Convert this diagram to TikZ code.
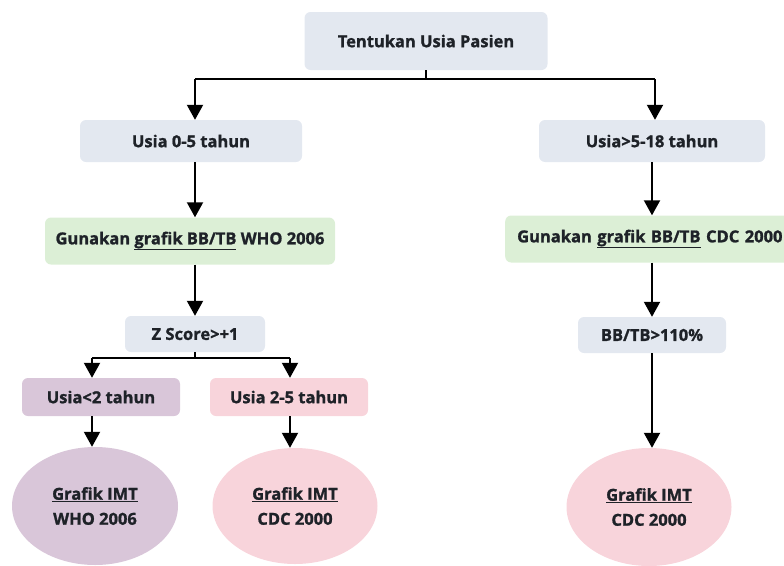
\documentclass[tikz,border=0pt]{standalone}
\usepackage{fontspec}
\setmainfont{Open Sans}[BoldFeatures={FakeBold=1.2}]
\usetikzlibrary{arrows.meta,shapes.geometric}
\definecolor{cblue}{HTML}{E3E8F0}
\definecolor{cgreen}{HTML}{DCEFD6}
\definecolor{cpurple}{HTML}{D9C6D9}
\definecolor{cpink}{HTML}{F8D4DB}
\definecolor{ctext}{HTML}{1E2228}
\tikzset{
  box/.style={rectangle, rounded corners=6pt, inner sep=0pt, font=\bfseries\fontsize{16.5}{19}\selectfont, text=ctext},
  oval/.style={ellipse, inner sep=0pt, font=\bfseries\fontsize{16.5}{25}\selectfont, text=ctext, align=center},
  arr/.style={line width=2pt, -{Triangle[width=16pt,length=15pt]}},
  ln/.style={line width=2pt}
}
\begin{document}
\begin{tikzpicture}[x=1pt,y=-1pt]
\useasboundingbox (0,0) rectangle (784,565);
\node[box, fill=cblue, minimum width=243pt, minimum height=58pt] (top) at (426,41) {Tentukan Usia Pasien};
\node[box, fill=cblue, minimum width=222pt, minimum height=42pt] (u05) at (191,141) {Usia 0-5 tahun};
\node[box, fill=cblue, minimum width=226pt, minimum height=42pt] (u518) at (652,141) {Usia>5-18 tahun};
\node[box, fill=cgreen, minimum width=290pt, minimum height=47pt] (gwho) at (190,241) {Gunakan \underline{grafik BB/TB} WHO 2006};
\node[box, fill=cgreen, minimum height=47pt, text width=270pt, inner xsep=12pt, align=left, anchor=west] (gcdc) at (505,239) {Gunakan \underline{grafik BB/TB} CDC 2000};
\node[box, fill=cblue, minimum width=140pt, minimum height=36pt] (z) at (195,334) {Z Score>+1};
\node[box, fill=cblue, minimum width=148pt, minimum height=36pt] (bb) at (652,335) {BB/TB>110\%};
\node[box, fill=cpurple, minimum width=158pt, minimum height=38pt] (u2) at (101,397) {Usia<2 tahun};
\node[box, fill=cpink, minimum width=158pt, minimum height=38pt] (u25) at (289,397) {Usia 2-5 tahun};
\node[oval, fill=cpurple, minimum width=166pt, minimum height=118pt] (e1) at (95,506) {\underline{Grafik IMT}\\WHO 2006};
\node[oval, fill=cpink, minimum width=165pt, minimum height=116pt] (e2) at (295,506) {\underline{Grafik IMT}\\CDC 2000};
\node[oval, fill=cpink, minimum width=165pt, minimum height=118pt] (e3) at (649,507) {\underline{Grafik IMT}\\CDC 2000};
\coordinate (j1) at (426,79);
\coordinate (jl) at (195,79);
\coordinate (jr) at (655,79);
\coordinate (j2) at (195,358);
\coordinate (j2l) at (92,358);
\coordinate (j2r) at (290,358);
\coordinate (cx) at (652,0);
\draw[ln] (top.south) -- (j1);
\draw[ln] (jl) -- (jr);
\draw[arr] (jl) -- (u05.north -| jl);
\draw[arr] (jr) -- (u518.north -| jr);
\draw[arr] (u05.south -| jl) -- (gwho.north -| jl);
\draw[arr] (u518.south -| cx) -- (gcdc.north -| cx);
\draw[arr] (gwho.south -| jl) -- (z.north -| jl);
\draw[arr] (gcdc.south -| cx) -- (bb.north -| cx);
\draw[arr] (bb.south -| cx) -- (e3.north -| cx);
\draw[ln] (z.south -| jl) -- (j2);
\draw[ln] (j2l) -- (j2r);
\draw[arr] (j2l) -- (u2.north -| j2l);
\draw[arr] (j2r) -- (u25.north -| j2r);
\draw[arr] (u2.south -| j2l) -- (e1.north -| j2l);
\draw[arr] (u25.south -| j2r) -- (e2.north -| j2r);
\end{tikzpicture}
\end{document}
